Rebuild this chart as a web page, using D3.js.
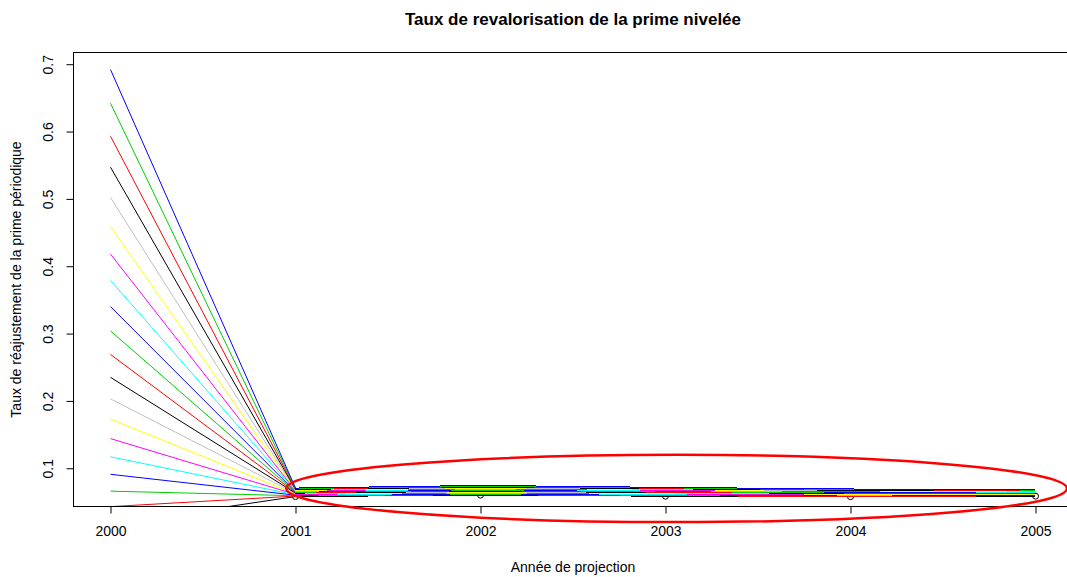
<!DOCTYPE html>
<html>
<head>
<meta charset="utf-8">
<script src="https://cdn.jsdelivr.net/npm/d3@7"></script>
<style>
  html, body { margin: 0; padding: 0; background: #ffffff; }
  svg { display: block; font-family: "Liberation Sans", Arial, sans-serif; }
</style>
</head>
<body>
<svg id="chart" width="1067" height="577"></svg>
<script>
// Projection years
const years = [2000, 2001, 2002, 2003, 2004, 2005];

// Readjustment rate for each of the 20 generations (index 0 = generation 1), one array per year
const rate2000 = [0.017, 0.043, 0.066, 0.091, 0.117, 0.144, 0.173, 0.203, 0.235, 0.269,
                  0.304, 0.340, 0.379, 0.418, 0.459, 0.502, 0.547, 0.593, 0.642, 0.692];
const rate2001 = [0.0580, 0.0587, 0.0592, 0.0600, 0.0605, 0.0612, 0.0618, 0.0625, 0.0631, 0.0638,
                  0.0644, 0.0650, 0.0658, 0.0665, 0.0671, 0.0679, 0.0685, 0.0692, 0.0699, 0.0706];
const rate2002 = [0.0600, 0.0608, 0.0614, 0.0621, 0.0629, 0.0637, 0.0643, 0.0652, 0.0658, 0.0667,
                  0.0673, 0.0682, 0.0689, 0.0696, 0.0705, 0.0713, 0.0720, 0.0729, 0.0736, 0.0745];
const rate2003 = [0.0585, 0.0591, 0.0599, 0.0605, 0.0611, 0.0619, 0.0625, 0.0633, 0.0639, 0.0645,
                  0.0653, 0.0661, 0.0666, 0.0674, 0.0682, 0.0687, 0.0695, 0.0703, 0.0709, 0.0716];
const rate2004 = [0.0578, 0.0583, 0.0590, 0.0597, 0.0602, 0.0607, 0.0615, 0.0620, 0.0627, 0.0632,
                  0.0637, 0.0645, 0.0650, 0.0655, 0.0663, 0.0668, 0.0673, 0.0681, 0.0686, 0.0692];
const rate2005 = [0.0586, 0.0590, 0.0597, 0.0601, 0.0605, 0.0612, 0.0616, 0.0620, 0.0627, 0.0631,
                  0.0635, 0.0642, 0.0646, 0.0650, 0.0657, 0.0661, 0.0665, 0.0672, 0.0676, 0.0681];

// Base R palette, cycled over the generations
const palette = ["#000000", "#FF0000", "#00CD00", "#0000FF", "#00FFFF", "#FF00FF", "#FFFF00", "#BEBEBE"];

// Axis ticks
const xTicks = [2000, 2001, 2002, 2003, 2004, 2005];
const yTicks = [0.1, 0.2, 0.3, 0.4, 0.5, 0.6, 0.7];

const titleText = "Taux de revalorisation de la prime nivelée";
const xTitle = "Année de projection";
const yTitle = "Taux de réajustement de la prime périodique";

// ---- layout ----
const plot = { left: 73.5, right: 1072.5, top: 52.5, bottom: 506.5 };

const x = d3.scaleLinear().domain([1999.8, 2005.2]).range([plot.left, plot.right]);
const y = d3.scaleLinear().domain([0.0432, 0.7174]).range([plot.bottom, plot.top]);

const svg = d3.select("#chart");

svg.append("defs").append("clipPath").attr("id", "plotClip")
  .append("rect")
  .attr("x", plot.left).attr("y", plot.top)
  .attr("width", plot.right - plot.left).attr("height", plot.bottom - plot.top);

// Build one series per generation from the per-year arrays
const byYear = [rate2000, rate2001, rate2002, rate2003, rate2004, rate2005];
const series = rate2000.map((_, i) => years.map((yr, j) => ({ year: yr, value: byYear[j][i] })));

const line = d3.line().x(d => x(d.year)).y(d => y(d.value));

const marks = svg.append("g").attr("clip-path", "url(#plotClip)");

series.forEach((s, i) => {
  const col = palette[i % palette.length];
  // steep first-year drop, smoothed
  marks.append("path")
    .datum(s.slice(0, 2))
    .attr("d", line)
    .attr("fill", "none")
    .attr("stroke", col)
    .attr("stroke-width", 1);
  // nearly flat later years, pixel-snapped
  marks.append("path")
    .datum(s.slice(1))
    .attr("d", line)
    .attr("fill", "none")
    .attr("stroke", col)
    .attr("stroke-width", 1)
    .attr("shape-rendering", "crispEdges");
  // first generation is drawn with open circles at each year
  if (i === 0) {
    marks.selectAll("circle.g1")
      .data(s)
      .enter().append("circle")
      .attr("class", "g1")
      .attr("cx", d => x(d.year))
      .attr("cy", d => y(d.value))
      .attr("r", 3)
      .attr("fill", "none")
      .attr("stroke", "#000000")
      .attr("stroke-width", 1);
  }
});

// ---- frame and axes ----
svg.append("rect")
  .attr("x", plot.left).attr("y", plot.top)
  .attr("width", plot.right - plot.left).attr("height", plot.bottom - plot.top)
  .attr("fill", "none").attr("stroke", "#000000").attr("stroke-width", 1);

const xAxis = d3.axisBottom(x).tickValues(xTicks).tickFormat(d3.format("d"))
  .tickSize(7).tickSizeOuter(0).tickPadding(13);
const gx = svg.append("g").attr("transform", `translate(0,${plot.bottom})`).call(xAxis);
gx.select(".domain").remove();
gx.selectAll("line").attr("stroke", "#000000");
gx.selectAll("text").attr("font-size", 14).attr("fill", "#000000")
  .attr("font-family", "'Liberation Sans', Arial, sans-serif");

const yAxis = d3.axisLeft(y).tickValues(yTicks).tickFormat(d3.format(".1f"))
  .tickSize(7).tickSizeOuter(0);
const gy = svg.append("g").attr("transform", `translate(${plot.left},0)`).call(yAxis);
gy.select(".domain").remove();
gy.selectAll("line").attr("stroke", "#000000");
gy.selectAll("text")
  .attr("font-size", 14).attr("fill", "#000000")
  .attr("font-family", "'Liberation Sans', Arial, sans-serif")
  .attr("x", 0).attr("dy", null)
  .attr("text-anchor", "middle")
  .attr("transform", "translate(-21,0) rotate(-90)");

// ---- titles ----
const midX = (plot.left + plot.right) / 2;
const midY = (plot.top + plot.bottom) / 2;

svg.append("text")
  .attr("x", midX).attr("y", 25)
  .attr("text-anchor", "middle")
  .attr("font-size", 17).attr("font-weight", "bold")
  .text(titleText);

svg.append("text")
  .attr("x", midX).attr("y", 572)
  .attr("text-anchor", "middle")
  .attr("font-size", 14)
  .text(xTitle);

svg.append("text")
  .attr("transform", `translate(21,${midY}) rotate(-90)`)
  .attr("text-anchor", "middle")
  .attr("font-size", 14)
  .text(yTitle);

// ---- highlight around the converged rates ----
svg.append("ellipse")
  .attr("cx", x(2003.06))
  .attr("cy", y(0.0700))
  .attr("rx", x(2005.17) - x(2003.06))
  .attr("ry", y(0.0200) - y(0.0700))
  .attr("fill", "none")
  .attr("stroke", "#FF0000")
  .attr("stroke-width", 2.5);
</script>
</body>
</html>
